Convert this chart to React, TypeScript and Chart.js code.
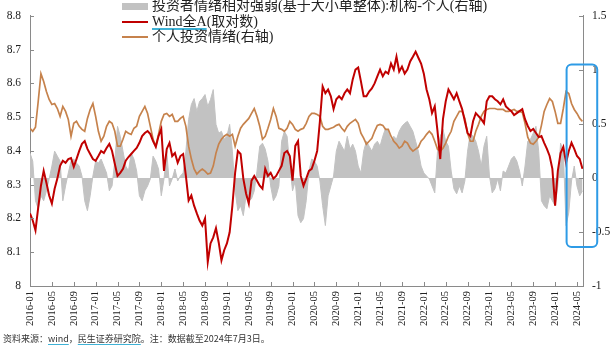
import React, { useEffect, useRef } from 'react';
import { Chart, registerables } from 'chart.js';

Chart.register(...registerables);

// ---- data (half-month sampling starting 2016-01) ----
const STEP_MONTHS = 0.5;
const X_MAX_MONTHS = 101.1;
const X_TICK_EVERY = 4;

const X_TICK_LABELS = [
  '2016-01', '2016-05', '2016-09', '2017-01', '2017-05', '2017-09', '2018-01', '2018-05', '2018-09',
  '2019-01', '2019-05', '2019-09', '2020-01', '2020-05', '2020-09', '2021-01', '2021-05', '2021-09',
  '2022-01', '2022-05', '2022-09', '2023-01', '2023-05', '2023-09', '2024-01', '2024-05',
];

// Wind全A(取对数) - left axis
const WIND_A = [
  8.215, 8.194, 8.165, 8.232, 8.297, 8.341, 8.306, 8.268, 8.244, 8.288,
  8.318, 8.356, 8.371, 8.365, 8.376, 8.379, 8.353, 8.376, 8.400, 8.421,
  8.429, 8.406, 8.391, 8.376, 8.371, 8.385, 8.400, 8.394, 8.409, 8.421,
  8.400, 8.362, 8.326, 8.335, 8.347, 8.371, 8.382, 8.391, 8.400, 8.409,
  8.424, 8.444, 8.453, 8.459, 8.450, 8.429, 8.412, 8.444, 8.465, 8.341,
  8.406, 8.424, 8.385, 8.394, 8.365, 8.385, 8.391, 8.326, 8.253, 8.268,
  8.238, 8.215, 8.194, 8.179, 8.200, 8.071, 8.126, 8.144, 8.171, 8.129,
  8.076, 8.106, 8.126, 8.159, 8.238, 8.335, 8.400, 8.391, 8.318, 8.274,
  8.244, 8.312, 8.326, 8.312, 8.297, 8.288, 8.347, 8.326, 8.335, 8.318,
  8.326, 8.341, 8.356, 8.394, 8.400, 8.385, 8.312, 8.415, 8.429, 8.326,
  8.297, 8.318, 8.341, 8.347, 8.371, 8.400, 8.488, 8.591, 8.571, 8.582,
  8.562, 8.524, 8.553, 8.562, 8.553, 8.571, 8.582, 8.571, 8.612, 8.641,
  8.647, 8.606, 8.562, 8.562, 8.576, 8.585, 8.600, 8.621, 8.641, 8.621,
  8.635, 8.629, 8.659, 8.641, 8.679, 8.635, 8.650, 8.629, 8.641, 8.665,
  8.679, 8.694, 8.676, 8.659, 8.629, 8.582, 8.553, 8.512, 8.532, 8.459,
  8.376, 8.494, 8.547, 8.582, 8.568, 8.553, 8.571, 8.547, 8.524, 8.488,
  8.453, 8.444, 8.488, 8.512, 8.503, 8.494, 8.482, 8.547, 8.562, 8.562,
  8.553, 8.547, 8.538, 8.553, 8.532, 8.524, 8.518, 8.506, 8.512, 8.518,
  8.524, 8.494, 8.474, 8.459, 8.465, 8.453, 8.441, 8.444, 8.424, 8.406,
  8.385, 8.347, 8.238, 8.341, 8.394, 8.412, 8.365, 8.400, 8.424, 8.406,
  8.385, 8.376, 8.347,
];

// 个人投资情绪(右轴)
const RETAIL_SENTIMENT = [
  0.460, 0.432, 0.469, 0.708, 0.965, 0.892, 0.800, 0.726, 0.680, 0.689,
  0.643, 0.570, 0.662, 0.616, 0.542, 0.386, 0.506, 0.524, 0.478, 0.450,
  0.432, 0.551, 0.634, 0.689, 0.570, 0.432, 0.340, 0.386, 0.478, 0.524,
  0.506, 0.432, 0.294, 0.294, 0.358, 0.432, 0.414, 0.404, 0.460, 0.478,
  0.570, 0.616, 0.662, 0.597, 0.478, 0.358, 0.294, 0.404, 0.524, 0.588,
  0.597, 0.570, 0.588, 0.524, 0.524, 0.551, 0.570, 0.478, 0.294, 0.175,
  0.083, 0.037, 0.064, 0.083, 0.064, 0.037, 0.046, 0.110, 0.230, 0.313,
  0.358, 0.386, 0.404, 0.386, 0.404, 0.294, 0.386, 0.460, 0.496, 0.524,
  0.551, 0.597, 0.643, 0.570, 0.478, 0.358, 0.386, 0.460, 0.542, 0.643,
  0.570, 0.460, 0.450, 0.432, 0.460, 0.524, 0.496, 0.450, 0.432, 0.450,
  0.460, 0.506, 0.570, 0.597, 0.597, 0.588, 0.570, 0.478, 0.450, 0.450,
  0.460, 0.469, 0.487, 0.496, 0.460, 0.432, 0.478, 0.506, 0.524, 0.542,
  0.506, 0.414, 0.368, 0.313, 0.340, 0.368, 0.432, 0.487, 0.496, 0.487,
  0.450, 0.450, 0.386, 0.340, 0.313, 0.276, 0.294, 0.340, 0.322, 0.276,
  0.248, 0.267, 0.285, 0.340, 0.368, 0.404, 0.432, 0.404, 0.340, 0.267,
  0.248, 0.276, 0.322, 0.386, 0.432, 0.524, 0.570, 0.616, 0.616, 0.551,
  0.414, 0.340, 0.340, 0.432, 0.496, 0.570, 0.616, 0.634, 0.643, 0.643,
  0.643, 0.634, 0.634, 0.634, 0.616, 0.616, 0.625, 0.634, 0.616, 0.616,
  0.607, 0.506, 0.377, 0.322, 0.313, 0.340, 0.377, 0.487, 0.616, 0.680,
  0.735, 0.708, 0.616, 0.506, 0.506, 0.643, 0.800, 0.781, 0.689, 0.634,
  0.597, 0.551, 0.524,
];

// 投资者情绪相对强弱(基于大小单整体):机构-个人(右轴)
const INST_MINUS_RETAIL = [
  0.230, 0.156, -0.211, -0.285, -0.165, -0.211, -0.119, -0.009, 0.110, 0.248,
  0.202, 0.156, -0.211, -0.074, 0.046, 0.156, 0.175, 0.138, 0.110, 0.018,
  -0.211, -0.303, -0.165, 0.018, 0.156, 0.138, 0.175, 0.110, 0.046, -0.119,
  -0.074, 0.156, 0.478, 0.386, 0.248, 0.110, 0.064, 0.230, 0.175, 0.064,
  -0.165, -0.211, -0.119, -0.074, -0.009, 0.202, 0.156, 0.083, -0.165, -0.009,
  0.248, -0.074, -0.009, 0.083, -0.028, 0.018, 0.046, 0.248, 0.542, 0.680,
  0.735, 0.616, 0.708, 0.735, 0.772, 0.662, 0.726, 0.818, 0.496, 0.414,
  0.432, 0.358, 0.386, 0.496, 0.248, -0.119, -0.303, -0.257, -0.349, -0.165,
  -0.211, -0.193, -0.119, 0.064, 0.294, 0.322, 0.267, 0.156, -0.074, -0.211,
  -0.165, -0.074, 0.340, 0.432, 0.386, 0.110, -0.119, -0.028, -0.349, -0.414,
  -0.377, -0.211, 0.064, 0.175, 0.156, 0.110, -0.028, -0.257, -0.441, -0.165,
  -0.074, 0.018, 0.248, 0.340, 0.294, 0.248, 0.386, 0.267, 0.313, 0.248,
  0.110, 0.046, 0.248, 0.340, 0.294, 0.248, 0.313, 0.340, 0.294, 0.386,
  0.460, 0.432, 0.340, 0.386, 0.358, 0.432, 0.478, 0.506, 0.524, 0.478,
  0.432, 0.340, 0.248, 0.110, 0.046, 0.018, -0.009, -0.074, -0.138, 0.248,
  0.386, 0.450, 0.340, 0.294, 0.064, -0.101, -0.147, -0.074, -0.138, -0.028,
  0.248, 0.414, 0.386, 0.340, 0.248, 0.110, 0.294, 0.386, 0.018, -0.138,
  -0.101, -0.009, -0.119, 0.064, 0.046, 0.110, 0.175, 0.202, 0.156, 0.064,
  -0.074, 0.110, 0.340, 0.358, 0.414, 0.478, 0.248, -0.211, -0.257, -0.285,
  -0.165, -0.211, -0.257, -0.074, 0.322, 0.248, -0.441, -0.322, -0.028, 0.110,
  -0.074, -0.165, -0.119,
];

// highlight box (in data units: months on x, right-axis units on y)
const HIGHLIGHT_FROM_MONTH = 98.1;
const HIGHLIGHT_TO_MONTH = 103.7;
const HIGHLIGHT_TOP = 1.05;
const HIGHLIGHT_BOTTOM = -0.64;

const RED = '#c00000';
const ORANGE = '#c6824c';
const GRAY = '#c2c2c2';
const AXIS = '#8a8a8a';
const BLUE = '#2e9be6';
const SERIF = '"Liberation Serif","Times New Roman","Noto Sans CJK SC",serif';

const toPoints = (arr: number[]) => arr.map((v, i) => ({ x: i * STEP_MONTHS, y: v }));
const fmt = (v: number) => String(Math.round(v * 10) / 10);

const decorPlugin = {
  id: 'decor',
  afterDraw(chart: any) {
    const { ctx, chartArea, scales } = chart;
    const { x, y, y1 } = scales;
    ctx.save();
    ctx.strokeStyle = AXIS;
    ctx.lineWidth = 1;
    ctx.beginPath();
    y.ticks.forEach((t: any) => {
      const py = Math.round(y.getPixelForValue(t.value)) + 0.5;
      ctx.moveTo(chartArea.left, py);
      ctx.lineTo(chartArea.left + 4, py);
    });
    y1.ticks.forEach((t: any) => {
      const py = Math.round(y1.getPixelForValue(t.value)) + 0.5;
      ctx.moveTo(chartArea.right - 4, py);
      ctx.lineTo(chartArea.right, py);
    });
    x.ticks.forEach((t: any) => {
      const px = Math.round(x.getPixelForValue(t.value)) + 0.5;
      ctx.moveTo(px, chartArea.bottom - 4);
      ctx.lineTo(px, chartArea.bottom);
    });
    ctx.stroke();

    const l = x.getPixelForValue(HIGHLIGHT_FROM_MONTH);
    const r = x.getPixelForValue(HIGHLIGHT_TO_MONTH);
    const t = y1.getPixelForValue(HIGHLIGHT_TOP);
    const b = y1.getPixelForValue(HIGHLIGHT_BOTTOM);
    ctx.strokeStyle = BLUE;
    ctx.lineWidth = 2;
    ctx.beginPath();
    ctx.roundRect(l, t, r - l, b - t, 5);
    ctx.stroke();
    ctx.restore();
  },
};

export default function App() {
  const ref = useRef<HTMLCanvasElement>(null);

  useEffect(() => {
    const canvas = ref.current;
    if (!canvas) return;
    const tickFont = { family: SERIF, size: 11.5 };
    const chart = new Chart(canvas, {
      type: 'line',
      data: {
        datasets: [
          {
            label: 'Wind全A(取对数)',
            data: toPoints(WIND_A),
            yAxisID: 'y',
            borderColor: RED,
            borderWidth: 2,
            pointRadius: 0,
            tension: 0,
            fill: false,
          },
          {
            label: '个人投资情绪(右轴)',
            data: toPoints(RETAIL_SENTIMENT),
            yAxisID: 'y1',
            borderColor: ORANGE,
            borderWidth: 1.7,
            pointRadius: 0,
            tension: 0,
            fill: false,
          },
          {
            label: '投资者情绪相对强弱(基于大小单整体):机构-个人(右轴)',
            data: toPoints(INST_MINUS_RETAIL),
            yAxisID: 'y1',
            borderColor: GRAY,
            borderWidth: 1,
            backgroundColor: GRAY,
            pointRadius: 0,
            tension: 0,
            fill: 'origin',
          },
        ],
      },
      options: {
        animation: false,
        responsive: false,
        maintainAspectRatio: false,
        layout: { padding: { top: 14, left: 0, right: 0, bottom: 0 } },
        plugins: { legend: { display: false }, tooltip: { enabled: false } },
        scales: {
          x: {
            type: 'linear',
            min: 0,
            max: X_MAX_MONTHS,
            afterBuildTicks: (s: any) => {
              s.ticks = X_TICK_LABELS.map((_, i) => ({ value: i * X_TICK_EVERY }));
            },
            afterFit: (s: any) => { s.height = 64; },
            grid: { display: false, drawTicks: false },
            border: { display: true, color: AXIS, width: 1 },
            ticks: {
              autoSkip: false,
              minRotation: 90,
              maxRotation: 90,
              padding: 5,
              color: '#222',
              font: { family: SERIF, size: 10.5 },
              callback: (v: any) => X_TICK_LABELS[Math.round(Number(v) / X_TICK_EVERY)] ?? '',
            },
          },
          y: {
            position: 'left',
            min: 8,
            max: 8.8,
            afterFit: (s: any) => { s.width = 30; },
            grid: { display: false, drawTicks: false },
            border: { display: true, color: AXIS, width: 1 },
            ticks: { stepSize: 0.1, padding: 9, autoSkip: false, color: '#222', font: tickFont, callback: (v: any) => fmt(Number(v)) },
          },
          y1: {
            position: 'right',
            min: -1,
            max: 1.5,
            afterFit: (s: any) => { s.width = 28; },
            grid: { display: false, drawTicks: false },
            border: { display: true, color: AXIS, width: 1 },
            ticks: { stepSize: 0.5, padding: 9, autoSkip: false, color: '#222', font: tickFont, callback: (v: any) => fmt(Number(v)) },
          },
        },
      },
      plugins: [decorPlugin],
    } as any);
    return () => chart.destroy();
  }, []);

  const legendText: React.CSSProperties = {
    position: 'absolute',
    left: 152,
    fontFamily: SERIF,
    fontSize: 14,
    lineHeight: '16px',
    color: '#222',
    whiteSpace: 'nowrap',
  };
  const underline: React.CSSProperties = {
    textDecoration: 'underline',
    textDecorationColor: '#3fb2d6',
    textDecorationThickness: 2,
    textUnderlineOffset: 2,
  };

  return (
    <div style={{ position: 'absolute', left: 0, top: 0, width: 611, height: 350, background: '#fff', overflow: 'hidden' }}>
      <canvas ref={ref} width={611} height={350} style={{ display: 'block', width: 611, height: 350 }} />
      <div style={{ position: 'absolute', left: 122, top: 3, width: 26, height: 7, background: GRAY }} />
      <div style={{ ...legendText, top: -2 }}>投资者情绪相对强弱(基于大小单整体):机构-个人(右轴)</div>
      <div style={{ position: 'absolute', left: 122, top: 21, width: 26, height: 2, background: RED }} />
      <div style={{ ...legendText, top: 14 }}><span style={underline}>Wind全A</span>(取对数)</div>
      <div style={{ position: 'absolute', left: 122, top: 35.5, width: 26, height: 2, background: ORANGE }} />
      <div style={{ ...legendText, top: 28.5 }}>个人投资情绪(右轴)</div>
      <div
        style={{
          position: 'absolute',
          left: 3,
          top: 332,
          fontFamily: '"Noto Sans CJK SC","Noto Sans",sans-serif',
          fontSize: 9,
          lineHeight: '14px',
          color: '#333',
          whiteSpace: 'nowrap',
        }}
      >
        资料来源：<span style={{ ...underline, textDecorationThickness: 1 }}>wind</span>，
        <span style={{ ...underline, textDecorationThickness: 1 }}>民生证券研究院</span>。注：数据截至2024年7月3日。
      </div>
    </div>
  );
}
